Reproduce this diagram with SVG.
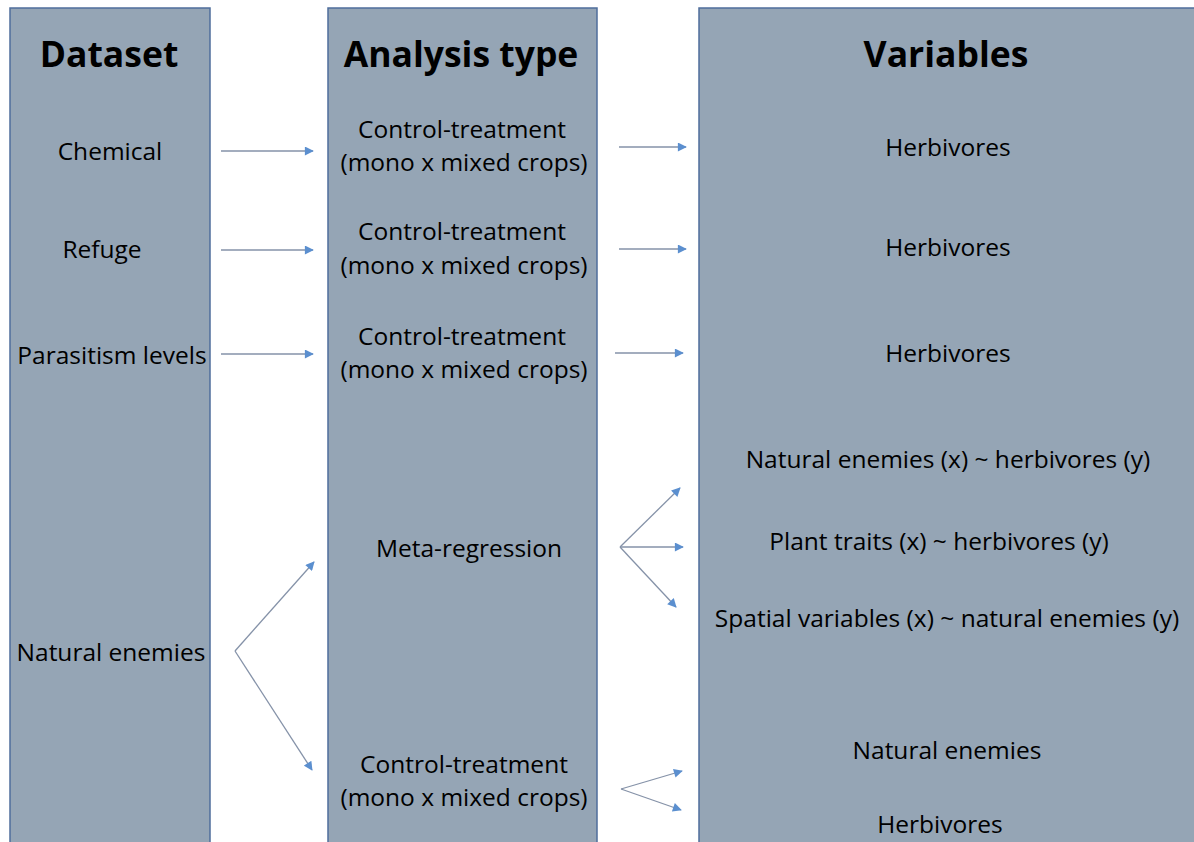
<svg xmlns="http://www.w3.org/2000/svg" width="1194" height="842" viewBox="0 0 1194 842">
<style>
.col{fill:#95a5b5;stroke:#4f6e9c;stroke-width:1.5}
.t{font-family:"Open Sans","Liberation Sans",sans-serif;font-weight:bold;font-size:35.5px;fill:#000;text-anchor:middle}
.b{font-family:"Open Sans","Liberation Sans",sans-serif;font-size:24.5px;fill:#000;text-anchor:middle}
.c line{stroke:#8592a8;stroke-width:1.3;marker-end:url(#ah)}
</style>
<defs>
<marker id="ah" viewBox="0 0 10 10" refX="9" refY="5" markerWidth="10" markerHeight="9" markerUnits="userSpaceOnUse" orient="auto">
<path d="M0,0 L10,5 L0,10 z" fill="#5b8fcf"/>
</marker>
</defs>
<rect width="1194" height="842" fill="#fff"/>
<g id="col-dataset">
<rect class="col" x="10" y="8" width="200" height="850"/>
<text class="t" x="109" y="67">Dataset</text>
</g>
<g id="col-analysis">
<rect class="col" x="328" y="8" width="269" height="850"/>
<text class="t" x="461" y="67">Analysis type</text>
</g>
<g id="col-variables">
<rect class="col" x="699" y="8" width="520" height="850"/>
<text class="t" x="946" y="67">Variables</text>
</g>
<g id="n-chemical"><text class="b" x="110" y="160">Chemical</text></g>
<g id="n-refuge"><text class="b" x="102" y="258">Refuge</text></g>
<g id="n-parasitism"><text class="b" x="112" y="364">Parasitism levels</text></g>
<g id="n-natenemies"><text class="b" x="111" y="661">Natural enemies</text></g>
<g id="n-ct1"><text class="b" x="462" y="138">Control-treatment</text><text class="b" x="464" y="171">(mono x mixed crops)</text></g>
<g id="n-ct2"><text class="b" x="462" y="240">Control-treatment</text><text class="b" x="464" y="274">(mono x mixed crops)</text></g>
<g id="n-ct3"><text class="b" x="462" y="345">Control-treatment</text><text class="b" x="464" y="378">(mono x mixed crops)</text></g>
<g id="n-meta"><text class="b" x="469" y="557">Meta-regression</text></g>
<g id="n-ct4"><text class="b" x="464" y="773">Control-treatment</text><text class="b" x="464" y="806">(mono x mixed crops)</text></g>
<g id="n-h1"><text class="b" x="948" y="156">Herbivores</text></g>
<g id="n-h2"><text class="b" x="948" y="256">Herbivores</text></g>
<g id="n-h3"><text class="b" x="948" y="362">Herbivores</text></g>
<g id="n-v1"><text class="b" x="948" y="468">Natural enemies (x) ~ herbivores (y)</text></g>
<g id="n-v2"><text class="b" x="939" y="550">Plant traits (x) ~ herbivores (y)</text></g>
<g id="n-v3"><text class="b" x="947" y="627">Spatial variables (x) ~ natural enemies (y)</text></g>
<g id="n-v4"><text class="b" x="947" y="759">Natural enemies</text></g>
<g id="n-v5"><text class="b" x="940" y="833">Herbivores</text></g>
<g id="connectors" class="c">
<line x1="221" y1="151" x2="313" y2="151"/>
<line x1="619" y1="147" x2="686" y2="147"/>
<line x1="221" y1="250" x2="313" y2="250"/>
<line x1="619" y1="249" x2="686" y2="249"/>
<line x1="221" y1="354" x2="313" y2="354"/>
<line x1="615" y1="353" x2="683" y2="353"/>
<line x1="620" y1="547" x2="680" y2="488"/>
<line x1="620" y1="547" x2="683" y2="547"/>
<line x1="620" y1="547" x2="676" y2="607"/>
<line x1="235" y1="651" x2="314" y2="562"/>
<line x1="235" y1="651" x2="312" y2="770"/>
<line x1="621" y1="789" x2="682" y2="771"/>
<line x1="621" y1="789" x2="681" y2="810"/>
</g>
</svg>
